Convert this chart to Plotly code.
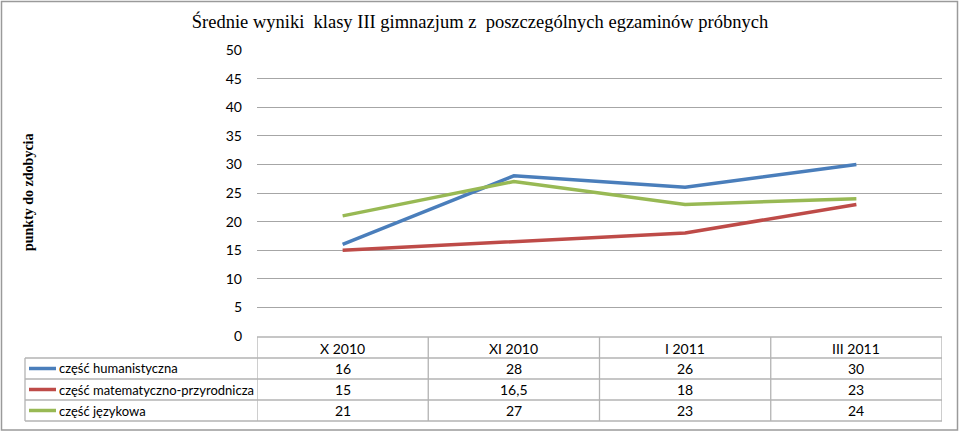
import plotly.graph_objects as go

categories = ["X 2010", "XI 2010", "I 2011", "III 2011"]
series_names = ["część humanistyczna", "część matematyczno-przyrodnicza", "część językowa"]
hum = [16, 28, 26, 30]
mat = [15, 16.5, 18, 23]
jez = [21, 27, 23, 24]
colors = ["#4A7EBB", "#BE4B48", "#98B954"]
y_ticks = list(range(0, 55, 5))
title = "Średnie wyniki  klasy III gimnazjum z  poszczególnych egzaminów próbnych"
y_title = "punkty do zdobycia"

series = [hum, mat, jez]

W, H = 960, 433
L, R, T, B = 257, 18, 50, 97
plot_h = H - T - B
plot_w = W - L - R

def py(px):  # pixel y -> paper y
    return (H - B - px) / plot_h

def pxx(px):  # pixel x -> paper x
    return (px - L) / plot_w

def fmt(v):
    s = ("%g" % v)
    return s.replace(".", ",")

fig = go.Figure()
idx = list(range(len(categories)))
for name, vals, c in zip(series_names, series, colors):
    fig.add_trace(go.Scatter(x=idx, y=vals, mode="lines", name=name,
                             line=dict(color=c, width=3.5), showlegend=False))

font_sans = "Lato, Open Sans, Liberation Sans, sans-serif"
fs = 14
grid_c = "#A6A6A6"
tbl_c = "#B3B3B3"
shapes = []
ann = []

# table geometry (pixels)
row_edges = [337, 358, 379, 400, 421]
left_px = 25
n = len(categories)
# header top border
shapes.append(dict(type="line", xref="x", yref="paper", x0=-0.5, x1=n - 0.5,
                   y0=py(row_edges[0]), y1=py(row_edges[0]), line=dict(color=tbl_c, width=1.3)))
# horizontal borders for body rows
for e in row_edges[1:]:
    shapes.append(dict(type="line", xref="paper", yref="paper", x0=pxx(left_px), x1=1,
                       y0=py(e), y1=py(e), line=dict(color=tbl_c, width=1.3)))
# vertical borders
for k in range(n + 1):
    shapes.append(dict(type="line", xref="x", yref="paper", x0=k - 0.5, x1=k - 0.5,
                       y0=py(row_edges[0]), y1=py(row_edges[-1]), line=dict(color=tbl_c, width=1.3)))
shapes.append(dict(type="line", xref="paper", yref="paper", x0=pxx(left_px), x1=pxx(left_px),
                   y0=py(row_edges[1]), y1=py(row_edges[-1]), line=dict(color=tbl_c, width=1.3)))

# header labels
for k, cat in enumerate(categories):
    ann.append(dict(x=k, y=py((row_edges[0] + row_edges[1]) / 2 + 1), xref="x", yref="paper",
                    xanchor="center", yanchor="middle",
                    text=cat, showarrow=False, font=dict(size=fs, color="#000", family=font_sans)))
# body rows
for r, (name, vals, c) in enumerate(zip(series_names, series, colors)):
    yc = py((row_edges[r + 1] + row_edges[r + 2]) / 2)
    shapes.append(dict(type="line", xref="paper", yref="paper", x0=pxx(29), x1=pxx(56),
                       y0=yc, y1=yc, line=dict(color=c, width=3.5)))
    ann.append(dict(x=pxx(57), y=yc, xref="paper", yref="paper", text=name, showarrow=False,
                    xanchor="left", yanchor="middle",
                    font=dict(size=13, color="#000", family=font_sans)))
    for k, v in enumerate(vals):
        ann.append(dict(x=k, y=yc, xref="x", yref="paper", text=fmt(v), showarrow=False,
                        xanchor="center", yanchor="middle",
                        font=dict(size=fs, color="#000", family=font_sans)))

# outer chart border
shapes.append(dict(type="rect", xref="paper", yref="paper", x0=pxx(1.5), x1=pxx(957.5),
                   y0=py(430), y1=py(1.5), line=dict(color="#9A9A9A", width=1.5), layer="below"))

# y-axis title
ann.append(dict(x=pxx(28), y=0.5, xref="paper", yref="paper", text="<b>" + y_title + "</b>",
                showarrow=False, textangle=-90, xanchor="center", yanchor="middle",
                font=dict(size=14, color="#000", family="Liberation Serif, Times New Roman, serif")))

fig.update_layout(
    width=W, height=H,
    margin=dict(l=L, r=R, t=T, b=B),
    paper_bgcolor="white", plot_bgcolor="white",
    title=dict(text=title, x=0.5, xref="container", xanchor="center", y=1 - 22 / H, yanchor="middle",
               font=dict(size=18.5, color="#000", family="Liberation Serif, Times New Roman, serif")),
    xaxis=dict(range=[-0.5, n - 0.5], showticklabels=False, showgrid=False, zeroline=False,
               showline=False, ticks=""),
    yaxis=dict(range=[0, 50], tickvals=y_ticks, showgrid=True, gridcolor=grid_c, gridwidth=1.2,
               zeroline=False, showline=False, ticks="", ticklabelstandoff=14,
               tickfont=dict(size=fs, color="#000", family=font_sans)),
    shapes=shapes, annotations=ann,
)
fig.write_html("out.html")
